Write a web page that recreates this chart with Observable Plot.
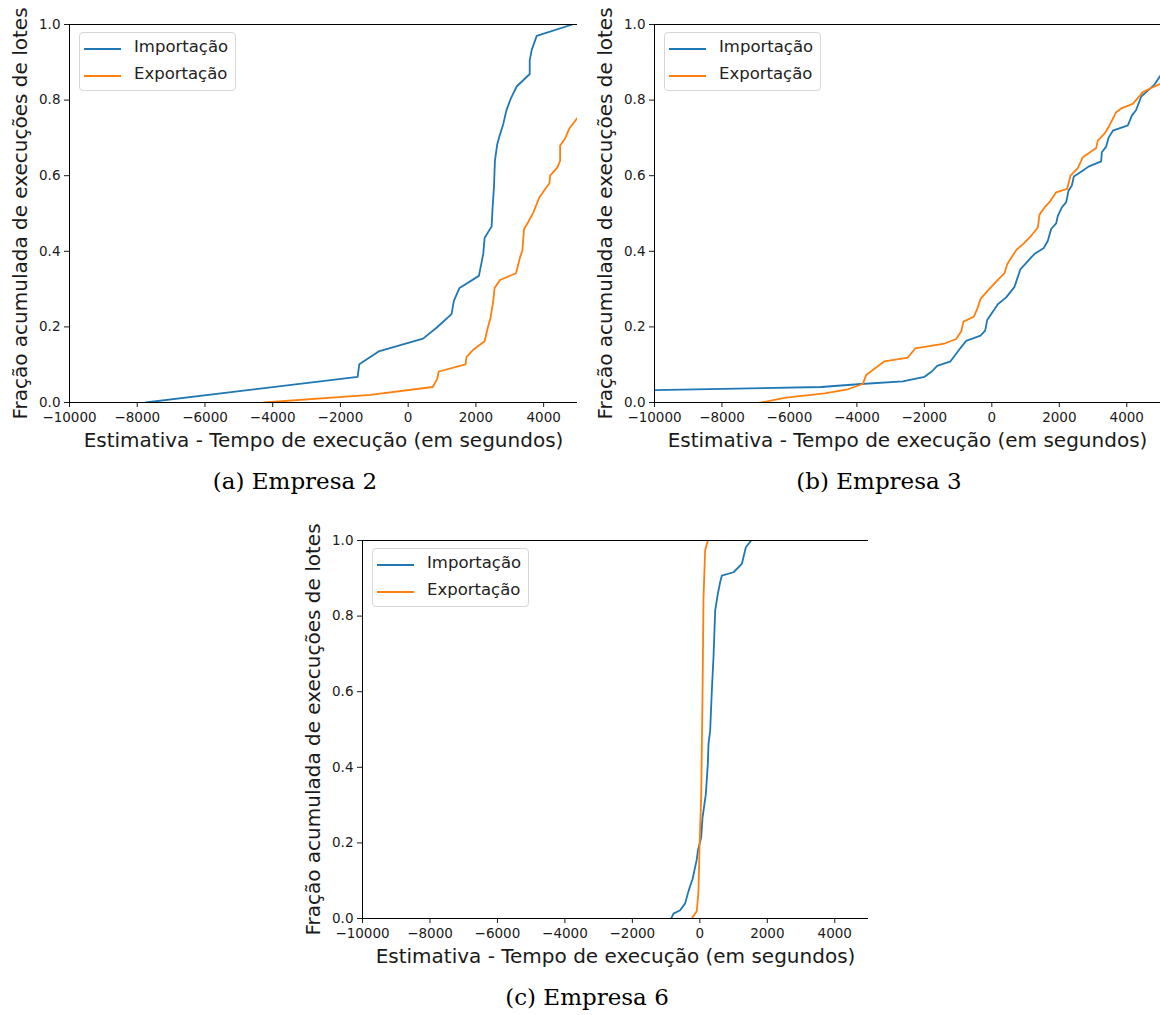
<!DOCTYPE html>
<html>
<head>
<meta charset="utf-8">
<script src="https://cdn.jsdelivr.net/npm/d3@7"></script>
<script src="https://cdn.jsdelivr.net/npm/@observablehq/plot@0.6"></script>
<style>
  html, body { margin: 0; padding: 0; background: white; }
  #root { position: relative; width: 1160px; height: 1015px; background: white; overflow: hidden; }
  .panel { position: absolute; }
  .panel svg { display: block; overflow: visible; }
  .panel svg g[aria-label="x-axis label"] text,
  .panel svg g[aria-label="y-axis label"] text { font-size: 20px; fill: #1a1a1a; }
  .legend { position: absolute; width: 157px; height: 59px; border: 1px solid #d6d6d6; border-radius: 4px;
            background: rgba(255,255,255,0.85); font-family: "DejaVu Sans", sans-serif; font-size: 16.5px; color: #222; box-sizing: border-box; }
  .legend .row { position: absolute; left: 0; height: 20px; }
  .legend .sw { position: absolute; left: 4px; width: 37px; height: 0; top: 0; border-top-width: 2px; border-top-style: solid; }
  .legend .lab { position: absolute; left: 54px; top: -11px; white-space: nowrap; }
  .caption { position: absolute; font-family: "DejaVu Serif", serif; font-size: 23px; line-height: 27px; color: #000; transform: translateX(-50%); white-space: nowrap; }
</style>
</head>
<body>
<div id="root"></div>
<script>
// ---- data ----
const seriesNames = ["Importação", "Exportação"];
const seriesColors = ["#1f77b4", "#ff7f0e"];
const xTicks = [-10000, -8000, -6000, -4000, -2000, 0, 2000, 4000];
const yTicks = [0, 0.2, 0.4, 0.6, 0.8, 1.0];
const panelCaptions = ["(a) Empresa 2", "(b) Empresa 3", "(c) Empresa 6"];
const xLabel = "Estimativa - Tempo de execução (em segundos)";
const yLabel = "Fração acumulada de execuções de lotes";

// Empresa 2
const e2ImpX = [-7750, -1493, -1444, -872, 441, 855, 1280, 1349, 1516, 2089, 2217, 2257, 2464, 2493, 2533, 2562, 2632, 2691, 2809, 2898, 3026, 3204, 3589, 3589, 3648, 3796, 4852];
const e2ImpY = [0, 0.068, 0.101, 0.135, 0.169, 0.199, 0.234, 0.269, 0.303, 0.335, 0.393, 0.435, 0.466, 0.516, 0.569, 0.640, 0.684, 0.703, 0.737, 0.772, 0.803, 0.836, 0.869, 0.905, 0.933, 0.970, 1.0];
const e2ExpX = [-4257, -1118, 727, 855, 905, 1694, 1724, 1941, 2257, 2355, 2434, 2513, 2553, 2711, 3184, 3303, 3372, 3421, 3569, 3697, 3875, 4171, 4191, 4408, 4487, 4487, 4625, 4753, 5000];
const e2ExpY = [0, 0.020, 0.041, 0.062, 0.082, 0.101, 0.121, 0.141, 0.162, 0.199, 0.225, 0.269, 0.303, 0.324, 0.342, 0.384, 0.402, 0.459, 0.481, 0.503, 0.543, 0.580, 0.600, 0.622, 0.640, 0.680, 0.697, 0.724, 0.753];

// Empresa 3
const e3ImpX = [-10000, -5059, -3874, -2638, -1996, -1779, -1621, -1225, -958, -761, -336, -198, -138, 178, 425, 672, 751, 850, 988, 1166, 1294, 1542, 1660, 1759, 1907, 1957, 2075, 2204, 2273, 2372, 2431, 2668, 2866, 3241, 3261, 3389, 3458, 3587, 4032, 4150, 4279, 4427, 4625, 4822, 5000];
const e3ImpY = [0.033, 0.041, 0.049, 0.056, 0.068, 0.082, 0.097, 0.109, 0.141, 0.163, 0.177, 0.190, 0.218, 0.260, 0.278, 0.306, 0.327, 0.353, 0.366, 0.384, 0.395, 0.409, 0.428, 0.459, 0.474, 0.494, 0.516, 0.530, 0.560, 0.574, 0.598, 0.612, 0.624, 0.638, 0.662, 0.677, 0.700, 0.719, 0.733, 0.759, 0.774, 0.809, 0.825, 0.841, 0.865];
const e3ExpX = [-6838, -6097, -4960, -4269, -3824, -3725, -3182, -2490, -2273, -1403, -1057, -909, -840, -534, -435, -336, -119, 128, 375, 455, 721, 949, 1166, 1364, 1413, 1561, 1709, 1907, 2233, 2332, 2549, 2698, 3093, 3142, 3340, 3488, 3686, 3854, 4180, 4476, 4723, 5000];
const e3ExpY = [0, 0.013, 0.024, 0.035, 0.049, 0.073, 0.109, 0.119, 0.143, 0.156, 0.168, 0.188, 0.214, 0.227, 0.247, 0.274, 0.296, 0.320, 0.342, 0.366, 0.403, 0.421, 0.441, 0.463, 0.497, 0.516, 0.530, 0.556, 0.565, 0.600, 0.620, 0.649, 0.673, 0.693, 0.711, 0.733, 0.768, 0.779, 0.790, 0.821, 0.832, 0.843];

// Empresa 6
const e6ImpX = [-850, -781, -583, -435, -356, -287, -217, -158, -89, -59, 40, 79, 138, 178, 237, 257, 306, 356, 405, 455, 534, 603, 652, 998, 1245, 1364, 1522];
const e6ImpY = [0, 0.013, 0.022, 0.040, 0.066, 0.086, 0.104, 0.128, 0.157, 0.179, 0.214, 0.267, 0.303, 0.329, 0.409, 0.462, 0.497, 0.603, 0.691, 0.815, 0.859, 0.890, 0.907, 0.916, 0.938, 0.982, 1.0];
const e6ExpX = [-237, -89, -40, -10, 40, 79, 109, 158, 237];
const e6ExpY = [0, 0.020, 0.073, 0.188, 0.320, 0.585, 0.850, 0.974, 1.0];

// ---- helpers ----
function rows(xs, ys, name) { return xs.map((x, i) => ({x, y: ys[i], series: name})); }
const fmtX = d => d < 0 ? "\u2212" + Math.abs(d) : String(d);

const panels = [
  {left: 0,   top: 0,   width: 580, mr: 3, caption: panelCaptions[0], capX: 295, capY: 468,
   data: [...rows(e2ImpX, e2ImpY, seriesNames[0]), ...rows(e2ExpX, e2ExpY, seriesNames[1])]},
  {left: 585, top: 0,   width: 575, mr: 0, caption: panelCaptions[1], capX: 879, capY: 468,
   data: [...rows(e3ImpX, e3ImpY, seriesNames[0]), ...rows(e3ExpX, e3ExpY, seriesNames[1])]},
  {left: 293, top: 516, width: 578, mr: 3, caption: panelCaptions[2], capX: 587, capY: 984,
   data: [...rows(e6ImpX, e6ImpY, seriesNames[0]), ...rows(e6ExpX, e6ExpY, seriesNames[1])]}
];

const root = document.getElementById("root");
for (const p of panels) {
  const chart = Plot.plot({
    width: p.width, height: 455,
    marginLeft: 69, marginRight: p.mr, marginTop: 24, marginBottom: 53,
    style: {fontFamily: "DejaVu Sans, sans-serif", fontSize: "13.5px", color: "#1a1a1a", background: "white", overflow: "visible"},
    x: {domain: [-10000, 5000]},
    y: {domain: [0, 1]},
    color: {domain: seriesNames, range: seriesColors},
    marks: [
      Plot.axisX({ticks: xTicks, tickFormat: fmtX, tickSize: 5, tickPadding: 5,
                  label: xLabel, labelAnchor: "center", labelOffset: 44, labelArrow: "none"}),
      Plot.axisY({ticks: yTicks, tickFormat: d3.format(".1f"), tickSize: 5, tickPadding: 4,
                  label: yLabel, labelAnchor: "center", labelOffset: 57, labelArrow: "none"}),
      Plot.line(p.data, {x: "x", y: "y", z: "series", stroke: "series", strokeWidth: 1.8, clip: true}),
      Plot.ruleY([0, 1], {stroke: "#000", strokeWidth: 1}),
      Plot.ruleX([-10000], {stroke: "#000", strokeWidth: 1})
    ]
  });
  const wrap = document.createElement("div");
  wrap.className = "panel";
  wrap.style.left = p.left + "px";
  wrap.style.top = p.top + "px";
  wrap.appendChild(chart);
  root.appendChild(wrap);

  // legend
  const lg = document.createElement("div");
  lg.className = "legend";
  lg.style.left = (p.left + 69 + 10) + "px";
  lg.style.top = (p.top + 24 + 8) + "px";
  seriesNames.forEach((name, i) => {
    const r = document.createElement("div");
    r.className = "row";
    r.style.top = (15 + i * 27) + "px";
    const sw = document.createElement("div");
    sw.className = "sw";
    sw.style.borderTopColor = seriesColors[i];
    const lab = document.createElement("span");
    lab.className = "lab";
    lab.textContent = name;
    r.appendChild(sw); r.appendChild(lab);
    lg.appendChild(r);
  });
  root.appendChild(lg);

  const cap = document.createElement("div");
  cap.className = "caption";
  cap.style.left = p.capX + "px";
  cap.style.top = p.capY + "px";
  cap.textContent = p.caption;
  root.appendChild(cap);
}
</script>
</body>
</html>
